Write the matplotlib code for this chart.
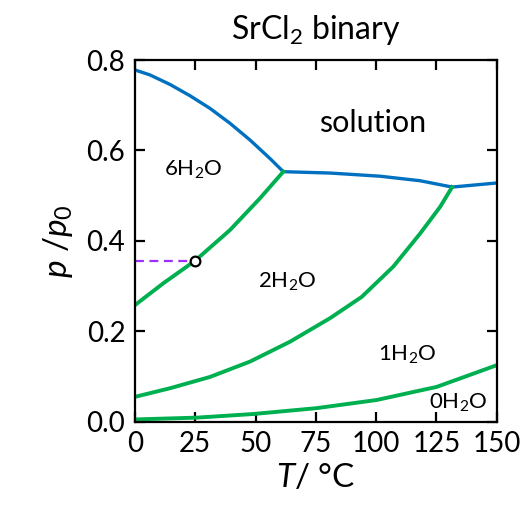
import matplotlib
matplotlib.use("Agg")
import matplotlib.pyplot as plt

plt.rcParams['font.family'] = ['Lato', 'DejaVu Sans']
plt.rcParams['mathtext.fontset'] = 'custom'
plt.rcParams['mathtext.rm'] = 'Lato'
plt.rcParams['mathtext.it'] = 'Lato:italic'

# solution / hydrate boundaries (blue)
liq_T = [0, 6.2, 14.5, 22.8, 31.1, 39.4, 47.7, 56, 61.5, 80.9, 101.6, 118.2, 131.5, 150]
liq_p = [0.778, 0.767, 0.746, 0.721, 0.693, 0.660, 0.623, 0.582, 0.553,
         0.550, 0.543, 0.533, 0.519, 0.528]

# hexahydrate / dihydrate
h62_T = [0, 11.7, 24.9, 39.4, 51.8, 61.5]
h62_p = [0.258, 0.306, 0.356, 0.424, 0.494, 0.553]

# dihydrate / monohydrate
h21_T = [0, 14.5, 31.1, 47.7, 64.3, 80.9, 94, 107.1, 118.2, 126.5, 131.5]
h21_p = [0.055, 0.074, 0.099, 0.133, 0.177, 0.229, 0.276, 0.343, 0.416, 0.475, 0.519]

# monohydrate / anhydrous
h10_T = [0, 25.6, 49, 75.3, 100.2, 125.1, 150]
h10_p = [0.005, 0.009, 0.017, 0.030, 0.048, 0.077, 0.125]

point_T = 25
point_p = 0.356

fig = plt.figure(figsize=(5.29, 5.09), dpi=100)
ax = fig.add_axes([0.2552, 0.1715, 0.6838, 0.7106])

blue = '#0070C0'
green = '#00B050'

ax.plot(liq_T, liq_p, color=blue, lw=2.4, solid_joinstyle='round')
for tt, pp in [(h62_T, h62_p), (h21_T, h21_p), (h10_T, h10_p)]:
    ax.plot(tt, pp, color=green, lw=2.8, solid_joinstyle='round')
ax.plot([0, point_T], [point_p, point_p], color='#9B30FF', lw=1.6, ls=(0, (4, 2.5)))
ax.plot(point_T, point_p, 'o', ms=7, mfc='white', mec='black', mew=1.6, zorder=5)

ax.text(24, 0.556, '6H$_2$O', fontsize=16, ha='center', va='center')
ax.text(63, 0.31, '2H$_2$O', fontsize=16, ha='center', va='center')
ax.text(113, 0.147, '1H$_2$O', fontsize=16, ha='center', va='center')
ax.text(134, 0.041, '0H$_2$O', fontsize=16, ha='center', va='center')
ax.text(98.5, 0.66, 'solution', fontsize=22, ha='center', va='center')

ax.set_xlim(0, 150)
ax.set_ylim(0, 0.8)
ax.set_xticks([0, 25, 50, 75, 100, 125, 150])
ax.set_yticks([0.0, 0.2, 0.4, 0.6, 0.8])
ax.set_yticklabels(['0.0', '0.2', '0.4', '0.6', '0.8'])
ax.tick_params(direction='in', length=7, width=1.6, labelsize=20,
               top=True, right=True, pad=7)
for s in ax.spines.values():
    s.set_linewidth(1.6)

ax.set_xlabel('$T$/ °C', fontsize=24, labelpad=4)
ax.set_ylabel('$p$ /$p_0$', fontsize=24, labelpad=8)
ax.set_title('SrCl$_2$ binary', fontsize=23, pad=15)

fig.savefig('out.png', dpi=100)
